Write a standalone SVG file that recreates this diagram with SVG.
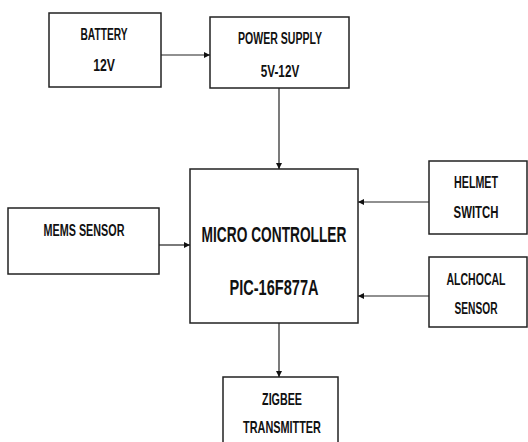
<svg xmlns="http://www.w3.org/2000/svg" width="528" height="442" viewBox="0 0 528 442">
<style>
.box{fill:#fff;stroke:#222;stroke-width:1.5}
.t{font-family:"Liberation Sans",Arial,sans-serif;font-weight:bold;font-size:17px;fill:#111;text-anchor:middle}
.big{font-size:22px}
.c{stroke:#222;stroke-width:1.2;fill:none}
</style>
<defs>
<marker id="ah" viewBox="0 0 10 10" refX="10" refY="5" markerWidth="6" markerHeight="6" markerUnits="userSpaceOnUse" orient="auto">
<path d="M0,0 L10,5 L0,10 z" fill="#111"/>
</marker>
</defs>
<rect width="528" height="442" fill="#fff"/>
<g id="battery">
<rect class="box" x="49" y="13" width="112" height="74"/>
<text class="t" transform="translate(104,40) scale(0.6,1)">BATTERY</text>
<text class="t" transform="translate(104,70.5) scale(0.72,1)">12V</text>
</g>
<g id="power">
<rect class="box" x="210" y="17" width="139" height="71"/>
<text class="t" transform="translate(280,44) scale(0.62,1)">POWER SUPPLY</text>
<text class="t" transform="translate(280,77) scale(0.69,1)">5V-12V</text>
</g>
<g id="mems">
<rect class="box" x="8" y="208" width="151" height="66"/>
<text class="t" transform="translate(84,236) scale(0.635,1)">MEMS SENSOR</text>
</g>
<g id="mc">
<rect class="box" x="190" y="169" width="168" height="154"/>
<text class="t big" transform="translate(274,241.5) scale(0.624,1)">MICRO CONTROLLER</text>
<text class="t big" transform="translate(274,295) scale(0.662,1)">PIC-16F877A</text>
</g>
<g id="helmet">
<rect class="box" x="429" y="161" width="98" height="73"/>
<text class="t" transform="translate(476,188) scale(0.63,1)">HELMET</text>
<text class="t" transform="translate(476,218) scale(0.67,1)">SWITCH</text>
</g>
<g id="alcohol">
<rect class="box" x="429" y="257" width="98" height="70"/>
<text class="t" transform="translate(476,285) scale(0.62,1)">ALCHOCAL</text>
<text class="t" transform="translate(476,314) scale(0.6,1)">SENSOR</text>
</g>
<g id="zigbee">
<rect class="box" x="223" y="377" width="115" height="70"/>
<text class="t" transform="translate(282,405) scale(0.63,1)">ZIGBEE</text>
<text class="t" transform="translate(282,433) scale(0.64,1)">TRANSMITTER</text>
</g>
<g id="connectors">
<line class="c" x1="161" y1="55" x2="210" y2="55" marker-end="url(#ah)"/>
<line class="c" x1="279" y1="88" x2="279" y2="169" marker-end="url(#ah)"/>
<line class="c" x1="159" y1="245" x2="190" y2="245" marker-end="url(#ah)"/>
<line class="c" x1="429" y1="202" x2="358" y2="202" marker-end="url(#ah)"/>
<line class="c" x1="429" y1="296" x2="358" y2="296" marker-end="url(#ah)"/>
<line class="c" x1="279" y1="323" x2="279" y2="377" marker-end="url(#ah)"/>
</g>
</svg>
